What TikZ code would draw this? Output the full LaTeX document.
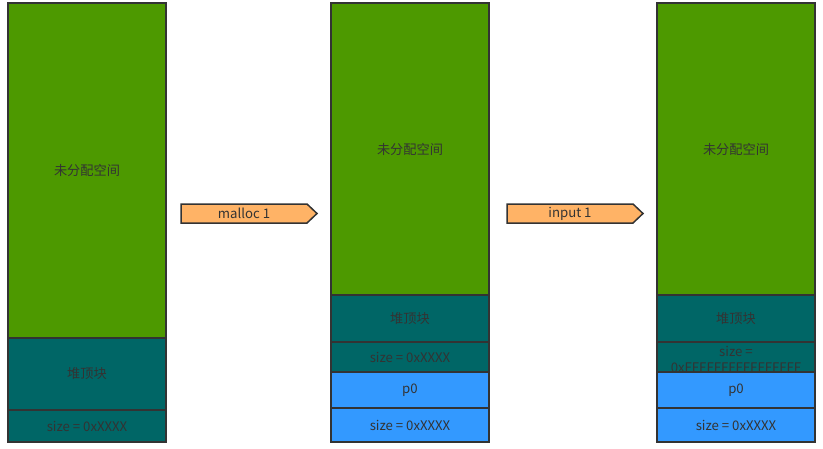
\documentclass[tikz,border=0pt]{standalone}
\usepackage{fontspec}
\setmainfont{Noto Sans CJK SC}
\definecolor{cgreen}{HTML}{4D9900}
\definecolor{cteal}{HTML}{006666}
\definecolor{cblue}{HTML}{3399FF}
\definecolor{corange}{HTML}{FFB366}
\definecolor{cline}{HTML}{333333}
\tikzset{
  blk/.style={draw=cline, line width=1.5pt},
  lbl/.style={text=cline, font=\fontsize{13.2}{15.5}\selectfont, inner sep=0pt},
  arr/.style={draw=cline, line width=1.5pt, fill=corange},
}
\begin{document}
\begin{tikzpicture}[x=1pt,y=-1pt]
\useasboundingbox (0,0) rectangle (823,448);
% column 1
\path[blk, fill=cgreen] (8,3) rectangle (166,338);
\node[lbl] (a1) at (87,170.5) {未分配空间};
\path[blk, fill=cteal] (8,338) rectangle (166,410);
\node[lbl] (a2) at (87,374) {堆顶块};
\path[blk, fill=cteal] (8,410) rectangle (166,442);
\node[lbl] (a3) at (87,426) {size = 0xXXXX};
% arrow 1
\path[arr] (181,204) -- (307,204) -- (317,213.5) -- (307,223) -- (181,223) -- cycle;
\node[lbl] (m1) at (244,213.5) {malloc 1};
% column 2
\path[blk, fill=cgreen] (331,3) rectangle (489,295);
\node[lbl] (b1) at (410,149) {未分配空间};
\path[blk, fill=cteal] (331,295) rectangle (489,342);
\node[lbl] (b2) at (410,318.5) {堆顶块};
\path[blk, fill=cteal] (331,342) rectangle (489,372);
\node[lbl] (b3) at (410,357) {size = 0xXXXX};
\path[blk, fill=cblue] (331,372) rectangle (489,408);
\node[lbl] (b4) at (410,390) {p0};
\path[blk, fill=cblue] (331,408) rectangle (489,442);
\node[lbl] (b5) at (410,425) {size = 0xXXXX};
% arrow 2
\path[arr] (507,204) -- (633,204) -- (643,213.5) -- (633,223) -- (507,223) -- cycle;
\node[lbl] (m2) at (570,213.5) {input 1};
% column 3
\path[blk, fill=cgreen] (657,3) rectangle (815,295);
\node[lbl] (c1) at (736,149) {未分配空间};
\path[blk, fill=cteal] (657,295) rectangle (815,342);
\node[lbl] (c2) at (736,318.5) {堆顶块};
\path[blk, fill=cteal] (657,342) rectangle (815,372);
\node[lbl, align=center] (c3) at (736,359.5) {size =\\0xFFFFFFFFFFFFFFFF};
\path[blk, fill=cblue] (657,372) rectangle (815,408);
\node[lbl] (c4) at (736,390) {p0};
\path[blk, fill=cblue] (657,408) rectangle (815,442);
\node[lbl] (c5) at (736,425) {size = 0xXXXX};
\end{tikzpicture}
\end{document}
